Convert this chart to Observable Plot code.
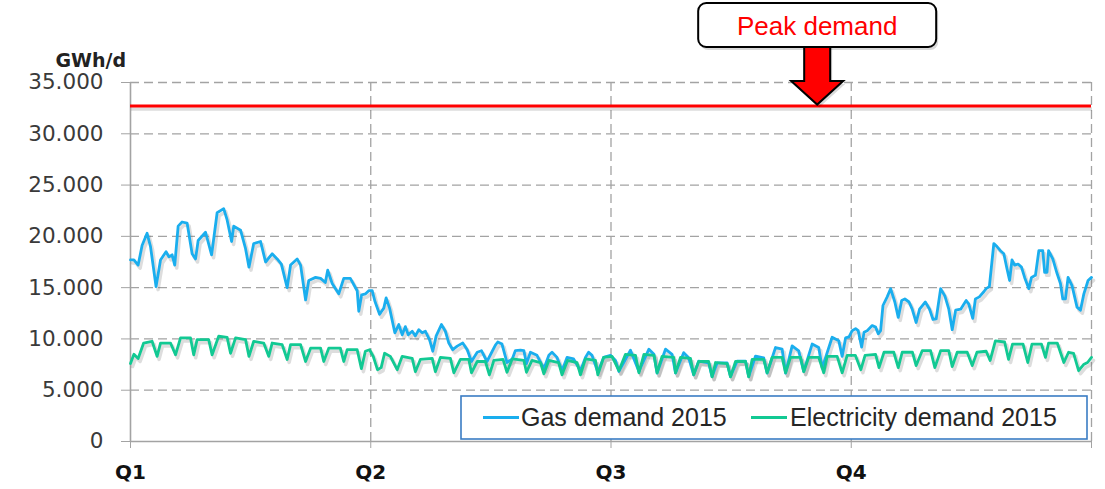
<!DOCTYPE html>
<html><head><meta charset="utf-8">
<script src="https://cdn.jsdelivr.net/npm/d3@7"></script>
<script src="https://cdn.jsdelivr.net/npm/@observablehq/plot@0.6"></script>
<style>
html,body{margin:0;padding:0;background:#fff;}
#chart{position:relative;width:1105px;height:489px;overflow:hidden;}
</style></head><body><div id="chart"></div>
<script>
// Gas demand 2015: [day of year, GWh/d]
const gasPoints = [
[0,17700],[1.3,17700],[2.9,17200],[4.4,19100],[6.3,20300],[7.6,19000],[9.7,15100],[11.4,17700],[13.5,18500],[14.6,18000],[15.8,18200],[16.8,17200],[18.1,21000],[19.6,21400],[21.5,21300],[23.4,18300],[24.7,17800],[25.7,19600],[28.5,20400],[30.8,18200],[32.9,22300],[35.4,22700],[36.7,21600],[38.4,19500],[39.2,21000],[41.8,20600],[43.7,18800],[45,17000],[46.8,19300],[49.4,19500],[51.3,17500],[53.8,18300],[55.7,17800],[57.3,17300],[59.5,15000],[60.8,17200],[63.3,17800],[64.6,17200],[66.5,13800],[67.7,15700],[70.3,16000],[72.2,15900],[74,15500],[74.9,16700],[76.6,15400],[79.1,14400],[81,15900],[83.5,15900],[86.1,14700],[86.7,12700],[87.8,14300],[89.3,14400],[90.5,14700],[91.8,14700],[92.8,13700],[94.6,12400],[96.2,13000],[97.1,14000],[98.4,13000],[100.4,10600],[101.9,11400],[103.2,10400],[104.4,11200],[105.5,10400],[107,10750],[108.2,10300],[109.5,10900],[110.8,10600],[112,10750],[113.6,9900],[114.8,8800],[116.1,10300],[118.1,11400],[119.6,10750],[120.9,9600],[122.4,8950],[124.1,9300],[126.2,9600],[127.9,8950],[129.5,7800],[131.7,8700],[133.3,8850],[135.4,7800],[137.4,8800],[138.6,9400],[139.5,9700],[141.1,9500],[143,7700],[145,8050],[146.2,8860],[148.1,8900],[149.4,8860],[150.4,7600],[151.9,8700],[154.4,8400],[157,7100],[158.9,8400],[160.1,8700],[162,8200],[163.9,6900],[165.8,8200],[168.3,8050],[170.9,6900],[172.8,8200],[174,8700],[175.3,8400],[177.5,6750],[179.7,8200],[182.3,8400],[184.2,7900],[185.5,6830],[189.9,8900],[193.1,6830],[196.9,9000],[198.8,8500],[200,6670],[203.2,9000],[205.7,8500],[207,6670],[210.1,8660],[212,8160],[213.9,6500],[215.8,7830],[219.6,7660],[220.9,6330],[222.8,7660],[226.6,7660],[227.9,6330],[230.4,7830],[233.6,7830],[234.8,6330],[237.4,8330],[240.5,8160],[241.8,6670],[245,9160],[247.5,9000],[248.8,6670],[251.3,9330],[253.8,8830],[255.7,6830],[258.9,9500],[261.4,9160],[262.7,7160],[266.5,10160],[269,9830],[270.3,8300],[271.6,10100],[272.9,10200],[274.1,10800],[275.4,11000],[276.4,10800],[277.7,9200],[278.6,10650],[279.8,10800],[281.7,11300],[283,11150],[284,10500],[284.9,10800],[285.8,13260],[287.4,14100],[288.7,14900],[290.3,13600],[291.6,12100],[292.9,13750],[294.1,13900],[295.7,13600],[296.9,12900],[298.4,11600],[299.7,12900],[301.9,13600],[303.5,12900],[304.8,11900],[306,11950],[307.7,14900],[309.3,14200],[310.8,12900],[312.1,10900],[313.4,12800],[315.3,12900],[317.4,13750],[318.4,13400],[319.9,12000],[320.9,13900],[322.4,14100],[324.1,14600],[325,14900],[326.2,15100],[327.9,19300],[329.1,19000],[330.4,18600],[331.7,18300],[332.9,16850],[333.9,15700],[334.8,17700],[335.8,17200],[337.1,17300],[338.4,17000],[339.6,16000],[341.2,14900],[342.2,16000],[343.7,16200],[345,18600],[346.5,18600],[347.2,16500],[348.1,16500],[348.7,18600],[350.3,17800],[351.9,16400],[353.2,15400],[354.1,13900],[355.1,13900],[356.1,16000],[357.6,15200],[359.5,13100],[360.8,12800],[362.1,14400],[363.7,15700],[365,16000]
];
// Electricity demand 2015: [day of year, GWh/d]
const elecPoints = [
[0,7600],[1.3,8500],[2.9,8100],[5,9600],[8.2,9770],[10.1,8300],[11.4,9600],[15.2,9600],[17.1,8450],[19,10100],[22.8,10100],[24,8450],[25.3,9930],[29.7,9930],[31,8450],[33.5,10260],[36.7,10150],[38,8600],[39.9,10100],[43.7,9930],[45,8300],[46.8,9770],[50.6,9600],[52.5,8300],[53.8,9600],[57.6,9440],[59.5,8000],[60.8,9440],[64.6,9440],[66.5,7800],[68.4,9100],[72.2,9100],[73.4,7800],[75.3,9100],[79.7,9100],[81,7800],[82.3,8950],[86.1,8950],[87.7,7100],[89.2,8800],[90.8,8950],[92.2,8300],[93.8,7000],[95.2,7200],[96.5,8600],[98.7,8300],[101.3,7000],[103.2,8300],[107,8100],[108.2,6800],[110.1,8000],[114.6,8100],[115.8,6800],[117.7,8200],[121.5,8100],[122.8,6700],[125.3,8000],[128.5,8000],[129.5,6700],[131.7,7800],[134.8,7800],[136.3,6500],[138,7900],[141.5,8000],[143,6750],[145,8050],[149.4,7900],[150.4,6750],[152.5,7900],[155.7,7700],[157,6600],[158.9,7900],[162.6,7700],[163.9,6500],[166,7900],[169.6,7700],[170.9,6500],[172.8,8050],[176.6,7900],[177.5,6500],[179.7,8200],[182.9,8300],[185.5,6900],[188,8500],[191.8,8400],[193.1,6700],[195,8500],[198.8,8400],[200,6700],[201.9,8300],[206.3,8200],[207,6700],[208.9,8200],[212.7,8100],[213.9,6500],[215.8,7800],[219.6,7800],[220.9,6300],[222.2,7700],[226.6,7600],[227.9,6300],[229.8,7800],[233.6,7800],[234.8,6300],[236.1,8000],[240.5,8000],[241.8,6700],[243.7,8200],[247.5,8200],[248.8,6700],[250.7,8200],[254.5,8200],[255.7,6800],[257.6,8200],[261.4,8200],[263.3,6700],[264.6,8300],[268.4,8300],[270.3,6700],[272.2,8400],[275.3,8400],[277.4,7000],[279,8400],[283,8500],[284.3,7200],[286.2,8700],[289.9,8700],[291.6,7200],[293.1,8700],[297,8700],[298.4,7400],[300.7,8850],[303.9,8850],[305.5,7200],[307.7,8850],[310.8,8850],[312.1,7300],[314,8700],[317.8,8700],[319.7,7400],[321.5,8700],[325,8800],[326.5,7900],[328.5,9800],[332,9700],[333.5,8000],[335,9500],[339,9500],[340.8,7700],[342.4,9500],[346,9500],[347.5,8200],[348.7,9600],[352,9600],[354.5,7700],[356.3,8700],[358.2,8600],[360.1,6900],[362,7500],[363.5,7700],[365,8200]
];
const peakDemand = 32700;
const peakLabel = "Peak demand";
const peakArrowDay = 261;
const yTicks = [0, 5000, 10000, 15000, 20000, 25000, 30000, 35000];
const quarterPos = [0, 91.25, 182.5, 273.75, 365];
const quarterLabels = ["Q1", "Q2", "Q3", "Q4", ""];
const seriesNames = ["Gas demand 2015", "Electricity demand 2015"];
const seriesColors = ["#1aaeee", "#12c993"];
const unitLabel = "GWh/d";

const gas = gasPoints.map(([day, value]) => ({day, value}));
const elec = elecPoints.map(([day, value]) => ({day, value}));
const fmt = d3.formatLocale({decimal: ",", thousands: ".", grouping: [3], currency: ["", ""]}).format(",");
const grid = "#a3a3a3";
const shadow = {stroke: "#666", strokeOpacity: 0.22, dx: 2, dy: 3, strokeWidth: 3.5};

const chart = Plot.plot({
  width: 1105, height: 489,
  marginLeft: 130, marginRight: 14, marginTop: 82, marginBottom: 48,
  x: {domain: [0, 365], label: null},
  y: {domain: [0, 35000], label: null},
  style: {fontFamily: "DejaVu Sans", background: "#fff", overflow: "visible"},
  marks: [
    Plot.ruleY(yTicks.slice(1), {stroke: grid, strokeDasharray: "9,5", strokeWidth: 1.3}),
    Plot.ruleX(quarterPos.slice(1), {stroke: grid, strokeDasharray: "9,5", strokeWidth: 1.3}),
    Plot.ruleX([0], {stroke: grid, strokeWidth: 1.6}),
    Plot.ruleY([0], {stroke: grid, strokeWidth: 1.6}),
    Plot.axisY(yTicks, {label: null, tickSize: 9, tickPadding: 18, stroke: grid, fill: "#3a3a3a", fontSize: 21.5,
      tickFormat: d => d === 0 ? "0" : fmt(d)}),
    Plot.axisX(quarterPos, {label: null, tickSize: 7, tickPadding: 16, stroke: grid, fill: "#111", fontSize: 20, fontWeight: "bold",
      tickFormat: d => quarterLabels[quarterPos.indexOf(d)]}),
    Plot.ruleY([peakDemand], {...shadow, dx: 1, dy: 3}),
    Plot.ruleY([peakDemand], {stroke: "#ff0000", strokeWidth: 3}),
    Plot.line(gas, {x: "day", y: "value", ...shadow, strokeLinejoin: "round"}),
    Plot.line(elec, {x: "day", y: "value", ...shadow, strokeLinejoin: "round"}),
    Plot.line(gas, {x: "day", y: "value", stroke: seriesColors[0], strokeWidth: 2.8, strokeLinejoin: "round"}),
    Plot.line(elec, {x: "day", y: "value", stroke: seriesColors[1], strokeWidth: 2.8, strokeLinejoin: "round"})
  ]
});
document.getElementById("chart").appendChild(chart);

const svg = d3.select(chart);
svg.selectAll('g[aria-label="x-axis tick label"] text').attr("font-weight", "bold").attr("font-size", 20).attr("fill", "#111");

const xs = chart.scale("x"), ys = chart.scale("y");
const ax = xs.apply(peakArrowDay), tipY = ys.apply(peakDemand) - 1;
const boxTop = 3, boxH = 44, boxW = 238;
const headY = 81;
const arrowPts = [[ax-13, boxTop+boxH-2], [ax+13, boxTop+boxH-2], [ax+13, headY], [ax+26, headY], [ax, tipY], [ax-26, headY], [ax-13, headY]];
const ann = svg.append("g");
ann.append("polygon").attr("points", arrowPts.map(p => [p[0]+2, p[1]+3].join(",")).join(" ")).attr("fill", "#000").attr("opacity", 0.15);
ann.append("rect").attr("x", ax - boxW/2 + 2).attr("y", boxTop + 3).attr("width", boxW).attr("height", boxH).attr("rx", 8).attr("fill", "#000").attr("opacity", 0.15);
ann.append("polygon").attr("points", arrowPts.map(p => p.join(",")).join(" "))
  .attr("fill", "#ff0000").attr("stroke", "#000").attr("stroke-width", 2).attr("stroke-linejoin", "miter");
ann.append("rect").attr("x", ax - boxW/2).attr("y", boxTop).attr("width", boxW).attr("height", boxH).attr("rx", 8)
  .attr("fill", "#fff").attr("stroke", "#000").attr("stroke-width", 2);
ann.append("text").attr("x", ax).attr("y", boxTop + 32).attr("text-anchor", "middle")
  .attr("font-family", "Liberation Sans, Arial, sans-serif").attr("font-size", 26).attr("fill", "#ff0000").text(peakLabel);

svg.append("text").attr("x", 126).attr("y", 67).attr("text-anchor", "end")
  .attr("font-family", "DejaVu Sans").attr("font-weight", "bold").attr("font-size", 19).attr("fill", "#222").text(unitLabel);

const lg = svg.append("g");
lg.append("rect").attr("x", 461).attr("y", 396).attr("width", 626).attr("height", 43)
  .attr("fill", "#fff").attr("stroke", "#3a7cc4").attr("stroke-width", 1.6);
const entries = [{x: 483, tx: 521}, {x: 751, tx: 790}];
entries.forEach((e, i) => {
  lg.append("line").attr("x1", e.x).attr("x2", e.x + 36).attr("y1", 417.5).attr("y2", 417.5)
    .attr("stroke", seriesColors[i]).attr("stroke-width", 3);
  lg.append("text").attr("x", e.tx).attr("y", 426).attr("text-anchor", "start").attr("font-family", "Liberation Sans, Arial, sans-serif")
    .attr("font-size", 25).attr("fill", "#262626").text(seriesNames[i]);
});
</script></body></html>
